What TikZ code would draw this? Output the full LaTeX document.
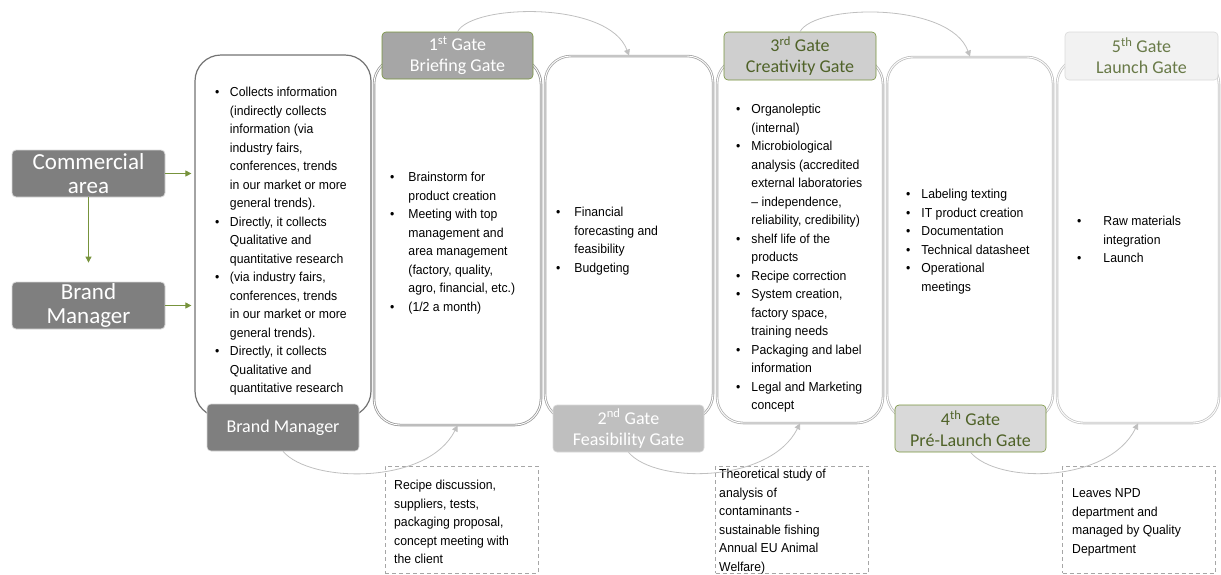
\documentclass[tikz,border=0pt]{standalone}
\usepackage{fontspec}
\setmainfont{Liberation Sans}[FakeStretch=0.94]
\newfontfamily\calib{Carlito}
\usetikzlibrary{arrows.meta}
\definecolor{dk}{HTML}{7F7F7F}
\definecolor{grn}{HTML}{77933C}
\definecolor{olv}{HTML}{4F6228}
\definecolor{curvec}{HTML}{BFBFBF}
\begin{document}
\begin{tikzpicture}[x=1pt,y=-1pt,
  bigbox/.style={rounded corners=26pt, fill=white, inner sep=0pt},
  dbl/.style={double=white, double distance=0.9pt, line width=0.8pt},
  lab/.style={rounded corners=4pt, inner sep=0pt, minimum height=47pt, align=center,
     font=\calib\fontsize{18}{21}\selectfont, line width=0.6pt},
  leftbox/.style={rounded corners=4pt, inner sep=0pt, fill=dk, draw=white!85!black, line width=0.8pt,
     minimum width=153pt, minimum height=47pt, align=center, text=white,
     font=\calib\fontsize{23}{24.5}\selectfont},
  txt/.style={anchor=base west, inner sep=0pt, font=\fontsize{13}{18.5}\selectfont},
  note/.style={draw=black!35, dashed, dash pattern=on 4pt off 3pt, line width=0.8pt,
     minimum width=153pt, minimum height=107pt, inner sep=0pt},
  garrow/.style={draw=grn, line width=0.8pt, -{Triangle[length=6pt,width=6pt]}},
  gcurve/.style={draw=curvec, line width=0.8pt, -{Triangle[length=6pt,width=6pt]}}
]
\useasboundingbox (0,0) rectangle (1221,574);

% big boxes
\node[bigbox, draw=black!55, line width=1.2pt, minimum width=176pt, minimum height=362pt] (box1) at (283,236) {};
\node[bigbox, dbl, draw=black!40, minimum width=167pt, minimum height=367pt] (box2) at (457.5,241.5) {};
\node[bigbox, dbl, draw=black!35, minimum width=168pt, minimum height=364pt] (box3) at (629,238) {};
\node[bigbox, dbl, draw=black!30, minimum width=166pt, minimum height=365pt] (box4) at (800,240.5) {};
\node[bigbox, dbl, draw=black!25, minimum width=166pt, minimum height=363pt] (box5) at (970,238.5) {};
\node[bigbox, dbl, draw=black!22, minimum width=162pt, minimum height=365pt] (box6) at (1138,240.5) {};

% left boxes
\node[leftbox] (cA) at (88.5,173.5) {Commercial\\area};
\node[leftbox] (brandL) at (88.5,305.5) {Brand\\Manager};

% gate labels
\node[lab, fill=black!35, draw=grn, text=white, minimum width=151pt] (gate1) at (457.5,55.5) {1\textsuperscript{st} Gate\\Briefing Gate};
\node[lab, fill=black!25, draw=white!85!black, text=white, minimum width=151pt] (gate2) at (628.5,428.5) {2\textsuperscript{nd} Gate\\Feasibility Gate};
\node[lab, fill=black!19, draw=grn, text=olv, minimum width=152pt, minimum height=48pt] (gate3) at (800,56) {3\textsuperscript{rd} Gate\\Creativity Gate};
\node[lab, fill=black!15, draw=grn, text=olv, minimum width=151pt] (gate4) at (970.5,428.5) {4\textsuperscript{th} Gate\\Pré-Launch Gate};
\node[lab, fill=black!5, draw=black!15, text=olv!85!white, minimum width=153pt, minimum height=48pt] (gate5) at (1141.5,56) {5\textsuperscript{th} Gate\\Launch Gate};
\node[lab, fill=dk, draw=white!85!black, text=white, minimum width=152pt] (bmLabel) at (283,427.5) {Brand Manager};

% box texts
\node[txt] (t1) at (215,96.5) {\begin{tabular}[t]{@{}l@{\hspace{10.5pt}}l@{}}
• & Collects information\\
  & (indirectly collects\\
  & information (via\\
  & industry fairs,\\
  & conferences, trends\\
  & in our market or more\\
  & general trends).\\
• & Directly, it collects\\
  & Qualitative and\\
  & quantitative research\\
• & (via industry fairs,\\
  & conferences, trends\\
  & in our market or more\\
  & general trends).\\
• & Directly, it collects\\
  & Qualitative and\\
  & quantitative research
\end{tabular}};
\node[txt] (t2) at (390,181.5) {\begin{tabular}[t]{@{}l@{\hspace{14pt}}l@{}}
• & Brainstorm for\\
  & product creation\\
• & Meeting with top\\
  & management and\\
  & area management\\
  & (factory, quality,\\
  & agro, financial, etc.)\\
• & (1/2 a month)
\end{tabular}};
\node[txt] (t3) at (556,216.5) {\begin{tabular}[t]{@{}l@{\hspace{14pt}}l@{}}
• & Financial\\
  & forecasting and\\
  & feasibility\\
• & Budgeting
\end{tabular}};
\node[txt] (t4) at (736,113.5) {\begin{tabular}[t]{@{}l@{\hspace{11pt}}l@{}}
• & Organoleptic\\
  & (internal)\\
• & Microbiological\\
  & analysis (accredited\\
  & external laboratories\\
  & – independence,\\
  & reliability, credibility)\\
• & shelf life of the\\
  & products\\
• & Recipe correction\\
• & System creation,\\
  & factory space,\\
  & training needs\\
• & Packaging and label\\
  & information\\
• & Legal and Marketing\\
  & concept
\end{tabular}};
\node[txt] (t5) at (906,198.5) {\begin{tabular}[t]{@{}l@{\hspace{11pt}}l@{}}
• & Labeling texting\\
• & IT product creation\\
• & Documentation\\
• & Technical datasheet\\
• & Operational\\
  & meetings
\end{tabular}};
\node[txt] (t6) at (1077,225.5) {\begin{tabular}[t]{@{}l@{\hspace{22pt}}l@{}}
• & Raw materials\\
  & integration\\
• & Launch
\end{tabular}};

% notes
\node[note] (note1) at (461.5,519.5) {};
\node[note] (note2) at (792,519.5) {};
\node[note] (note3) at (1139,519.5) {};
\node[txt] (n1) at (394,489.5) {\begin{tabular}[t]{@{}l@{}}
Recipe discussion,\\ suppliers, tests,\\ packaging proposal,\\ concept meeting with\\ the client\end{tabular}};
\node[txt] (n2) at (719,478.5) {\begin{tabular}[t]{@{}l@{}}
Theoretical study of\\ analysis of\\ contaminants -\\ sustainable fishing\\ Annual EU Animal\\ Welfare)\end{tabular}};
\node[txt] (n3) at (1072,497.5) {\begin{tabular}[t]{@{}l@{}}
Leaves NPD\\ department and\\ managed by Quality\\ Department\end{tabular}};

% green arrows
\draw[garrow, shorten >=3pt] (cA.east) -- (box1.west |- cA.east);
\draw[garrow, shorten >=3pt] (brandL.east) -- (box1.west |- brandL.east);
\draw[garrow, shorten >=19pt] (cA.south) -- (brandL.north);

% curves
\draw[gcurve] (gate1.north) .. controls +(15,-28) and +(-20,-55) .. (box3.north);
\draw[gcurve] (gate3.north) .. controls +(15,-28) and +(-20,-55) .. (box5.north);
\draw[gcurve] (bmLabel.south) .. controls +(27,32) and +(-30,60) .. (box2.south);
\draw[gcurve] (gate2.south) .. controls +(27,32) and +(-30,60) .. (box4.south);
\draw[gcurve] (gate4.south) .. controls +(27,32) and +(-30,60) .. (box6.south);
\end{tikzpicture}
\end{document}
